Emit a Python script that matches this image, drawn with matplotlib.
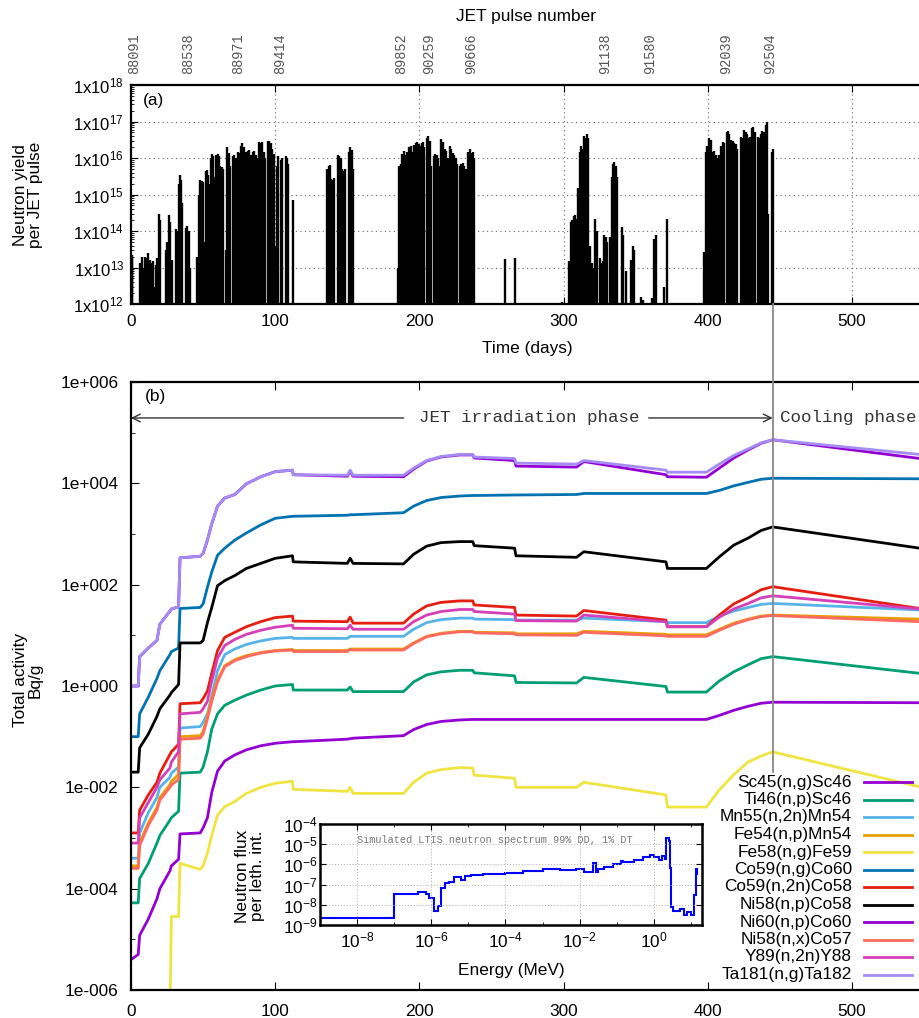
import numpy as np
import matplotlib
matplotlib.use('Agg')
import matplotlib.pyplot as plt
from matplotlib.ticker import FixedLocator, FuncFormatter, NullFormatter, LogFormatterSciNotation

plt.rcParams['font.family'] = ['Liberation Sans', 'DejaVu Sans']
plt.rcParams['mathtext.fontset'] = 'custom'
plt.rcParams['mathtext.rm'] = 'Liberation Sans'
plt.rcParams['mathtext.it'] = 'Liberation Sans'
plt.rcParams['mathtext.default'] = 'regular'
plt.rcParams['font.size'] = 12.4
MONO = ['Liberation Mono', 'DejaVu Sans Mono']

# ---------------- data: panel (a) neutron yield per pulse ----------------
camp1_day = [0, 0.5, 1.0, 6.5, 7.5, 8.5, 10, 11, 12, 13, 14, 15, 16, 17, 18, 19, 19.7, 20.2,
             24, 25, 26.5, 27.3, 28.2, 31, 32, 33, 34, 35, 35.7, 38, 39, 40, 41]
camp1_yield = [2.2e13, 2.0e13, 2.2e13, 1.3e13, 2.0e13, 1.0e13, 2.0e13, 1.8e13, 2.5e13, 1.6e13, 1.3e13,
               1.5e13, 3e12, 1.2e13, 1.8e13, 1.6e13, 3.0e14, 2.0e14, 3.0e13, 5.0e13, 2.7e14, 1.8e14,
               1.6e13, 1.1e14, 1.0e14, 2.0e15, 3.5e15, 2.5e15, 6e14, 1.2e14, 1.4e14, 1.0e14, 1.0e13]
camp2_day = [45.5, 47, 48, 49, 50, 51, 51.7, 52.5, 53.3, 54.2, 55.3, 56.2, 57, 58, 59, 60, 61, 62, 63, 64,
             66, 66.8, 67.7, 69, 70.5, 71.5, 72.5, 74, 75, 76.3, 77.2, 78.5, 79.5, 81, 82, 83, 84.3, 85.3,
             86.5, 87.5, 89, 90, 91, 92.2, 93.2, 95, 96, 97, 98, 99, 100, 101.2, 102, 103.7, 104.6, 107.3,
             108.2, 109, 112.3]
camp2_yield = [2.0e13, 1.0e15, 2.5e15, 2.4e15, 2.2e15, 5e13, 4.5e15, 4.8e15, 3.5e15, 2.0e15, 1.0e16, 1.3e16,
               1.1e16, 3e15, 1.2e16, 1.3e16, 1.1e16, 6e15, 5.5e15, 5e15, 3e13, 2.0e16, 1.4e16, 6e15, 1.1e16,
               1.2e16, 1.0e16, 1.5e16, 1.4e16, 2.2e16, 2.5e16, 2.0e16, 1.5e16, 1.6e16, 1.7e16, 1.2e16, 1.5e16,
               1.6e16, 1.2e16, 1.0e16, 2.8e16, 2.6e16, 2.8e16, 1.5e16, 1.0e16, 3.0e16, 3.0e16, 2.6e16, 1.8e16,
               1.3e16, 4e13, 6e15, 1.1e16, 9e15, 1.0e16, 1.1e16, 1.0e16, 7e15, 7e14]
camp3_day = [136, 137, 138, 139, 140, 141, 143.5, 144.5, 145.5, 146.5, 147.5, 148.5, 151, 152, 153, 154]
camp3_yield = [5e15, 6e15, 6.5e15, 2.7e15, 2.5e15, 2.8e15, 1.2e16, 1.1e16, 1.0e16, 5e15, 4.5e15, 5e15,
               1.5e16, 2.0e16, 1.7e16, 5e15]
camp4_day = [185, 186, 187, 188.2, 189.2, 190.2, 191.2, 192.5, 193.5, 194.5, 195.5, 196.5, 197.5, 198.5,
             199.5, 200.5, 201.5, 202.5, 203.5, 205.2, 206.2, 207.2, 208.2, 210, 211, 212, 213, 214, 215.2,
             216.2, 217.5, 218.5, 219.5, 221, 222, 223, 224.2, 225.2, 226.2, 228, 229, 230, 231, 232, 234,
             235, 236, 237, 238]
camp4_yield = [1.0e13, 6e15, 7e15, 1.3e16, 1.6e16, 1.2e16, 1.5e16, 2.0e16, 1.8e16, 2.2e16, 1.5e16, 2.3e16,
               2.5e16, 2.8e16, 2.4e16, 2.2e16, 2.6e16, 2.8e16, 2.0e16, 3.5e16, 4.0e16, 3.0e16, 6e15, 1.1e16,
               1.3e16, 1.2e16, 1.0e16, 6e15, 3.3e16, 2.8e16, 1.8e16, 1.6e16, 1.0e16, 2.2e16, 1.8e16, 1.4e16,
               1.2e16, 1.0e16, 7e15, 6e15, 7e15, 7.5e15, 6e15, 5e15, 1.5e16, 1.8e16, 1.4e16, 1.5e16, 1.0e16]
camp5_day = [259.5, 266.5, 299, 304, 305, 306, 307.2, 308.2, 309.2, 310.2, 311.5, 312.3, 313.1, 314, 315,
             316, 316.8, 318, 319.5, 320.5, 322, 323, 325, 326, 327, 328.3, 329.3, 330.3, 332, 333.3, 334.2,
             335.2, 336.2, 337, 340.2, 341, 343.5, 346.5, 348, 349, 353.5, 355, 361.5, 363, 364, 369.5, 371.5]
camp5_yield = [1.7e13, 1.8e13, 1.1e12, 1.5e13, 1.8e14, 2e14, 2.5e14, 2.8e14, 2.2e14, 1.5e15, 1.5e16, 2.2e16,
               1.8e16, 4.0e16, 3.6e16, 4.5e16, 3.5e16, 4e13, 1.3e13, 1.0e13, 2.2e14, 1.0e14, 1.8e13, 1.3e13,
               1.5e13, 8e13, 7e13, 5e13, 7e13, 3e15, 7e15, 8e15, 6e15, 3e15, 1.3e14, 8e13, 8e12, 1.6e13,
               4e13, 3e13, 1.6e12, 1.3e12, 1.5e12, 6e13, 7.7e13, 3e12, 2.2e14]
camp6_day = [397.5, 398.5, 399.5, 401, 402, 403.5, 404.5, 405.5, 407, 408, 409.5, 410.5, 411.5, 413, 414,
             415, 416.2, 417.2, 418.5, 419.5, 420.5, 423, 424, 425.2, 426.2, 427.2, 428.3, 429.3, 430.5,
             431.5, 432.5, 434.5, 435.5, 436.7, 437.7, 438.7, 440.2, 441.2, 442, 444.5, 445.5]
camp6_yield = [2.7e13, 1.5e16, 2.2e16, 3.5e16, 3.2e16, 1.5e16, 1.6e16, 1.2e16, 1.0e16, 1.2e16, 2.2e16,
               2.8e16, 2.5e16, 5e16, 5.5e16, 4.5e16, 3.2e16, 3.0e16, 2.5e16, 2.4e16, 1.8e16, 3.8e16, 3.5e16,
               6e16, 5e16, 4.5e16, 3.5e16, 3.8e16, 6.5e16, 7e16, 5e16, 3.8e16, 3.5e16, 4.5e16, 5.5e16, 5e16,
               8e16, 1.0e17, 3e14, 1.5e16, 1.8e16]

pulse_numbers = ['88091', '88538', '88971', '89414', '89852', '90259', '90666',
                 '91138', '91580', '92039', '92504']
pulse_number_days = [2, 39.5, 74, 103.5, 187, 207, 236, 329, 360, 413, 443]

# ---------------- data: panel (b) activities (log10 of Bq/g) ----------------
t_days = [0, 5, 6, 12, 18, 20, 27, 28, 33, 34, 48, 50, 53, 56, 60, 65, 72, 80, 90, 100,
          112, 112.5, 150, 152, 154, 189, 196, 205, 215, 228, 237, 238, 266, 267, 309, 314,
          371, 372, 399, 408, 418, 428, 437, 445, 547]

sc46_log = [0.0, 0.0, 0.58, 0.75, 0.9, 1.22, 1.48, 1.52, 1.56, 2.53, 2.56, 2.62, 2.88, 3.2, 3.55,
            3.71, 3.78, 3.99, 4.13, 4.23, 4.26, 4.17, 4.14, 4.24, 4.14, 4.13, 4.28, 4.44, 4.52, 4.56,
            4.56, 4.50, 4.45, 4.34, 4.32, 4.43, 4.17, 4.13, 4.12, 4.30, 4.50, 4.66, 4.79, 4.86, 4.49]
ti46_log = [-4.28, -4.28, -3.8, -3.5, -3.1, -2.95, -2.65, -2.6, -2.47, -1.72, -1.70, -1.6, -1.3, -0.85,
            -0.55, -0.38, -0.28, -0.18, -0.08, 0.0, 0.03, -0.08, -0.08, -0.02, -0.11, -0.11, 0.08, 0.22,
            0.28, 0.31, 0.31, 0.26, 0.2, 0.07, 0.06, 0.17, -0.01, -0.12, -0.12, 0.1, 0.28, 0.42, 0.54,
            0.58, 0.25]
mn55_log = [-3.4, -3.4, -2.9, -2.5, -2.2, -2.0, -1.8, -1.72, -1.6, -0.83, -0.80, -0.72, -0.55, -0.2,
            0.3, 0.62, 0.73, 0.82, 0.89, 0.94, 0.96, 0.94, 0.94, 0.98, 0.98, 0.98, 1.12, 1.25, 1.31,
            1.34, 1.34, 1.32, 1.31, 1.30, 1.30, 1.34, 1.27, 1.25, 1.25, 1.38, 1.48, 1.55, 1.61, 1.63, 1.50]
fe54_log = [-3.55, -3.55, -3.1, -2.7, -2.4, -2.2, -1.95, -1.88, -1.75, -1.0, -0.98, -0.9, -0.6, -0.25,
            0.12, 0.4, 0.52, 0.6, 0.66, 0.70, 0.72, 0.70, 0.70, 0.73, 0.73, 0.73, 0.85, 0.98, 1.04, 1.08,
            1.08, 1.06, 1.05, 1.03, 1.03, 1.08, 1.02, 1.01, 1.01, 1.12, 1.24, 1.32, 1.38, 1.40, 1.32]
fe58_log = [np.nan, np.nan, np.nan, np.nan, np.nan, np.nan, -6.5, -4.55, -4.55, -3.5, -3.62, -3.55, -3.3,
            -2.95, -2.55, -2.38, -2.28, -2.12, -2.0, -1.92, -1.88, -2.04, -2.08, -2.0, -2.12, -2.12, -1.9,
            -1.72, -1.65, -1.61, -1.62, -1.76, -1.82, -2.0, -2.0, -1.9, -2.15, -2.39, -2.39, -2.05, -1.75,
            -1.5, -1.38, -1.30, -1.99]
co59ng_log = [-1.0, -1.0, -0.55, -0.22, 0.15, 0.3, 0.62, 0.68, 0.75, 1.53, 1.55, 1.62, 1.95, 2.25, 2.58,
              2.72, 2.88, 3.02, 3.18, 3.31, 3.35, 3.35, 3.37, 3.38, 3.38, 3.42, 3.55, 3.66, 3.72, 3.75,
              3.76, 3.76, 3.77, 3.77, 3.78, 3.80, 3.80, 3.80, 3.80, 3.86, 3.95, 4.02, 4.08, 4.10, 4.09]
co59n2n_log = [-2.9, -2.9, -2.45, -2.15, -1.9, -1.72, -1.35, -1.3, -1.15, -0.35, -0.33, -0.25, -0.1, 0.25,
               0.7, 0.96, 1.06, 1.17, 1.27, 1.35, 1.38, 1.28, 1.27, 1.36, 1.24, 1.24, 1.42, 1.58, 1.65,
               1.68, 1.68, 1.60, 1.55, 1.40, 1.38, 1.49, 1.30, 1.17, 1.17, 1.40, 1.62, 1.76, 1.90, 1.96,
               1.53]
ni58np_log = [-1.7, -1.7, -1.22, -0.95, -0.6, -0.45, -0.18, -0.13, 0.03, 0.85, 0.85, 0.9, 1.25, 1.55,
              1.98, 2.08, 2.18, 2.32, 2.42, 2.52, 2.57, 2.45, 2.42, 2.52, 2.42, 2.41, 2.6, 2.76, 2.83,
              2.85, 2.85, 2.77, 2.72, 2.57, 2.54, 2.65, 2.45, 2.32, 2.32, 2.55, 2.78, 2.92, 3.07, 3.14, 2.72]
ni60np_log = [-5.4, -5.3, -4.92, -4.6, -4.2, -4.0, -3.65, -3.55, -3.42, -2.92, -2.9, -2.8, -2.6, -2.1,
              -1.68, -1.48, -1.36, -1.26, -1.18, -1.13, -1.10, -1.10, -1.05, -1.04, -1.03, -0.98, -0.86,
              -0.76, -0.70, -0.67, -0.66, -0.66, -0.66, -0.66, -0.66, -0.66, -0.66, -0.66, -0.66, -0.58,
              -0.48, -0.40, -0.34, -0.32, -0.33]
ni58nx_log = [-3.6, -3.6, -3.15, -2.75, -2.45, -2.25, -2.0, -1.95, -1.85, -1.05, -1.03, -0.95, -0.65, -0.3,
              0.08, 0.38, 0.5, 0.58, 0.65, 0.69, 0.71, 0.68, 0.68, 0.72, 0.71, 0.71, 0.84, 0.97, 1.03,
              1.07, 1.07, 1.05, 1.03, 1.01, 1.00, 1.06, 0.99, 0.98, 0.98, 1.10, 1.22, 1.31, 1.37, 1.39, 1.27]
y89_log = [-3.1, -3.1, -2.6, -2.3, -2.0, -1.85, -1.62, -1.5, -1.3, -0.55, -0.52, -0.45, -0.3, 0.1, 0.55,
           0.8, 0.92, 1.02, 1.1, 1.16, 1.20, 1.14, 1.13, 1.20, 1.12, 1.12, 1.27, 1.40, 1.47, 1.51, 1.51,
           1.47, 1.42, 1.29, 1.28, 1.40, 1.27, 1.17, 1.17, 1.36, 1.52, 1.63, 1.74, 1.78, 1.52]
ta182_log = [0.0, 0.0, 0.58, 0.75, 0.9, 1.22, 1.48, 1.52, 1.56, 2.53, 2.56, 2.62, 2.88, 3.2, 3.55, 3.71,
             3.78, 3.99, 4.13, 4.23, 4.26, 4.17, 4.16, 4.26, 4.16, 4.16, 4.30, 4.45, 4.53, 4.57, 4.57,
             4.52, 4.49, 4.40, 4.38, 4.45, 4.26, 4.22, 4.22, 4.38, 4.55, 4.68, 4.80, 4.86, 4.57]

reaction_labels = ['Sc45(n,g)Sc46', 'Ti46(n,p)Sc46', 'Mn55(n,2n)Mn54', 'Fe54(n,p)Mn54', 'Fe58(n,g)Fe59',
                   'Co59(n,g)Co60', 'Co59(n,2n)Co58', 'Ni58(n,p)Co58', 'Ni60(n,p)Co60', 'Ni58(n,x)Co57',
                   'Y89(n,2n)Y88', 'Ta181(n,g)Ta182']
reaction_colors = ['#9400D3', '#009E73', '#56B4E9', '#E69F00', '#F0E442', '#0072B2', '#E51E10',
                   '#000000', '#9400D3', '#FF6A60', '#D63FB8', '#A58CF5']
reaction_logs = [sc46_log, ti46_log, mn55_log, fe54_log, fe58_log, co59ng_log, co59n2n_log,
                 ni58np_log, ni60np_log, ni58nx_log, y89_log, ta182_log]

# ---------------- data: inset spectrum ----------------
spec_edges = [1e-9, 1e-7, 4.3e-7, 7e-7, 8.7e-7, 1.15e-6, 1.5e-6, 1.8e-6, 2.3e-6, 3e-6, 4e-6, 6.2e-6,
              8e-6, 1.2e-5, 2.5e-5, 1e-4, 3e-4, 1e-3, 3e-3, 8e-3, 1.3e-2, 1.8e-2, 2.3e-2, 2.8e-2, 3.2e-2,
              4.5e-2, 8e-2, 1.3e-1, 1.5e-1, 3e-1, 5e-1, 8e-1, 1.0, 1.4, 1.7, 2.0, 2.2, 2.5, 2.7, 3.0, 3.3,
              5.0, 6.5, 8.0, 10.0, 12.0, 13.5, 14.5, 15.0]
spec_flux = [2.1e-9, 3.5e-8, 4.1e-8, 3.3e-8, 2.1e-8, 5.2e-9, 8.3e-9, 6.8e-8, 1.2e-7, 1.4e-7, 2.4e-7,
             1.6e-7, 2.6e-7, 3.0e-7, 3.5e-7, 3.8e-7, 4.5e-7, 5.6e-7, 5.2e-7, 6.2e-7, 4.0e-7, 4.0e-7,
             1.2e-6, 4.0e-7, 6.0e-7, 7.5e-7, 1.0e-6, 1.5e-6, 1.3e-6, 1.7e-6, 2.3e-6, 2.8e-6, 2.3e-6,
             1.7e-6, 2.6e-6, 1.8e-6, 2.1e-5, 1.4e-5, 7e-7, 8e-9, 4.7e-9, 6e-9, 3.0e-9, 4.5e-9, 3.0e-9,
             3e-8, 5.6e-7, 3e-7]

# ---------------- figure layout (pixel based) ----------------
W, H, DPI = 919, 1018, 100
fig = plt.figure(figsize=(W / DPI, H / DPI), dpi=DPI)


def fx(px):
    return px / W


def fy(py):
    return 1 - py / H


XMAX = 550
AXW = XMAX * 1.442 / W
GRID_KW = dict(color='#666666', linestyle=(0, (1, 3)), linewidth=0.8)

# ---------------- panel (a) ----------------
ax1 = fig.add_axes([fx(131), fy(304), AXW, 219 / H])
for d, y in [(camp1_day, camp1_yield), (camp2_day, camp2_yield), (camp3_day, camp3_yield),
             (camp4_day, camp4_yield), (camp5_day, camp5_yield), (camp6_day, camp6_yield)]:
    ax1.vlines(d, 1e12, y, colors='black', linewidth=1.7)
ax1.set_yscale('log')
ax1.set_ylim(1e12, 1e18)
ax1.set_xlim(0, XMAX)
ax1.yaxis.set_major_locator(FixedLocator([10.0 ** k for k in range(12, 19)]))
ax1.yaxis.set_major_formatter(FuncFormatter(lambda v, p: r'$1x10^{%d}$' % int(round(np.log10(v)))))
ax1.yaxis.set_minor_formatter(NullFormatter())
ax1.set_xticks([0, 100, 200, 300, 400, 500])
ax1.tick_params(axis='both', which='both', direction='in', top=True)
ax1.tick_params(axis='y', which='major', length=5, pad=5, labelsize=12)
ax1.tick_params(axis='y', which='minor', length=2.5)
ax1.tick_params(axis='x', which='major', length=5, pad=7, labelsize=12.4)
ax1.grid(True, which='major', **GRID_KW)
for s in ax1.spines.values():
    s.set_linewidth(1.6)
for d, lab in zip(pulse_number_days, pulse_numbers):
    ax1.text(d, 1.05, lab, transform=ax1.get_xaxis_transform(), rotation=90, ha='center',
             va='bottom', family=MONO, fontsize=9.8, color='#555555')
fig.text(fx(143), fy(100), '(a)', ha='left', va='center', fontsize=12.4)
fig.text(fx(526), fy(16), 'JET pulse number', ha='center', va='center', fontsize=12.4)
fig.text(fx(527), fy(348), 'Time (days)', ha='center', va='center', fontsize=12.4)
fig.text(fx(28), fy(195), 'Neutron yield\nper JET pulse', rotation=90, ha='center', va='center',
         multialignment='center', fontsize=12.4, linespacing=1.0)

# ---------------- panel (b) ----------------
ax2 = fig.add_axes([fx(131), fy(990), AXW, 608 / H])
for lab, col, lg in zip(reaction_labels, reaction_colors, reaction_logs):
    ax2.plot(t_days, 10.0 ** np.asarray(lg, dtype=float), color=col, linewidth=2.0)
ax2.set_yscale('log')
ax2.set_ylim(1e-6, 1e6)
ax2.set_xlim(0, XMAX)
ax2.yaxis.set_major_locator(FixedLocator([10.0 ** k for k in range(-6, 7, 2)]))
ax2.yaxis.set_minor_locator(FixedLocator([10.0 ** k for k in range(-5, 6, 2)]))
ax2.yaxis.set_major_formatter(FuncFormatter(lambda v, p: '1e%+04d' % int(round(np.log10(v)))))
ax2.yaxis.set_minor_formatter(NullFormatter())
ax2.set_xticks([0, 100, 200, 300, 400, 500])
ax2.tick_params(axis='both', which='both', direction='in', top=True)
ax2.tick_params(axis='y', which='major', length=6, pad=9, labelsize=12.4)
ax2.tick_params(axis='y', which='minor', length=3)
ax2.tick_params(axis='x', which='major', length=6, pad=10, labelsize=12.4)
for s in ax2.spines.values():
    s.set_linewidth(1.6)

# phase annotations
ya = 1.95e5
ax2.annotate('', xy=(0, ya), xytext=(189, ya),
             arrowprops=dict(arrowstyle='->', color='#333333', lw=1.0, mutation_scale=14,
                             shrinkA=0, shrinkB=0))
ax2.annotate('', xy=(445, ya), xytext=(359, ya),
             arrowprops=dict(arrowstyle='->', color='#333333', lw=1.0, mutation_scale=14,
                             shrinkA=0, shrinkB=0))
ax2.text(276, ya, 'JET irradiation phase', ha='center', va='center', family=MONO,
         fontsize=12.6, color='#333333')
ax2.text(450, ya, 'Cooling phase', ha='left', va='center', family=MONO, fontsize=12.6,
         color='#333333')
ax2.axvline(445, ymin=(990 - 772) / 608, ymax=(990 - 304) / 608, color='#888888', lw=1.3,
            clip_on=False, zorder=5)
fig.text(fx(145), fy(397), '(b)', ha='left', va='center', fontsize=12.4)
fig.text(fx(28), fy(680), 'Total activity\nBq/g', rotation=90, ha='center', va='center',
         multialignment='center', fontsize=12.4, linespacing=1.0)

# legend (gnuplot style: text right, sample on the right)
for i, (lab, col) in enumerate(zip(reaction_labels, reaction_colors)):
    yy = fy(782 + 17.5 * i)
    fig.text(fx(852), yy, lab, ha='right', va='center', fontsize=12.4)
    fig.add_artist(plt.Line2D([fx(864), fx(912)], [yy, yy], color=col, linewidth=2.0))

# ---------------- inset ----------------
ax3 = fig.add_axes([fx(320), fy(925), 382 / W, 101 / H])
ax3.stairs(spec_flux, spec_edges, color='#0000FF', linewidth=1.5, baseline=None)
ax3.set_xscale('log')
ax3.set_yscale('log')
ax3.set_xlim(1e-9, 20)
ax3.set_ylim(1e-9, 1e-4)
ax3.xaxis.set_major_locator(FixedLocator([1e-8, 1e-6, 1e-4, 1e-2, 1.0]))
ax3.xaxis.set_minor_locator(FixedLocator([1e-9, 1e-7, 1e-5, 1e-3, 1e-1, 10.0]))
ax3.xaxis.set_major_formatter(LogFormatterSciNotation())
ax3.xaxis.set_minor_formatter(NullFormatter())
ax3.yaxis.set_major_locator(FixedLocator([10.0 ** k for k in range(-9, -3)]))
ax3.yaxis.set_major_formatter(LogFormatterSciNotation())
ax3.yaxis.set_minor_formatter(NullFormatter())
ax3.yaxis.set_minor_locator(FixedLocator([]))
ax3.tick_params(axis='both', which='both', direction='in', top=True, right=True)
ax3.tick_params(axis='both', which='major', length=4, labelsize=12.4)
ax3.tick_params(axis='y', which='major', pad=2)
ax3.tick_params(axis='x', which='major', pad=4)
ax3.tick_params(axis='both', which='minor', length=2)
ax3.grid(True, which='major', color='#aaaaaa', linestyle=(0, (1, 2)), linewidth=0.7)
for s in ax3.spines.values():
    s.set_linewidth(1.8)
ax3.text(0.096, 0.84, 'Simulated LTIS neutron spectrum 99% DD, 1% DT', transform=ax3.transAxes,
         ha='left', va='center', family=MONO, fontsize=7.4, color='#777777')
fig.text(fx(250), fy(876), 'Neutron flux\nper leth. int.', rotation=90, ha='center', va='center',
         multialignment='center', fontsize=12.4, linespacing=1.0)
fig.text(fx(511), fy(970), 'Energy (MeV)', ha='center', va='center', fontsize=12.4)

fig.savefig('out.png', dpi=DPI)
